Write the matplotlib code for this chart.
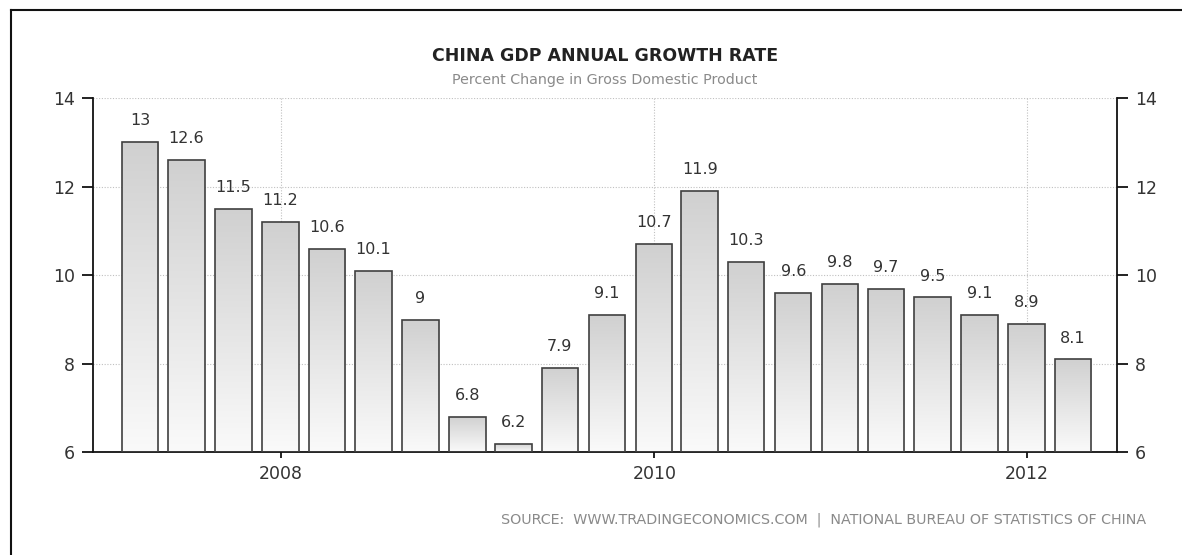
import matplotlib
matplotlib.use("Agg")
import matplotlib.pyplot as plt
import matplotlib.dates as mdates
from matplotlib.colors import LinearSegmentedColormap
from matplotlib.lines import Line2D
import numpy as np
import pandas as pd

# quarterly GDP growth, year on year (%)
quarters = ["2007Q1", "2007Q2", "2007Q3", "2007Q4",
            "2008Q1", "2008Q2", "2008Q3", "2008Q4",
            "2009Q1", "2009Q2", "2009Q3", "2009Q4",
            "2010Q1", "2010Q2", "2010Q3", "2010Q4",
            "2011Q1", "2011Q2", "2011Q3", "2011Q4",
            "2012Q1"]
growth = [13, 12.6, 11.5, 11.2, 10.6, 10.1, 9, 6.8, 6.2, 7.9, 9.1, 10.7,
          11.9, 10.3, 9.6, 9.8, 9.7, 9.5, 9.1, 8.9, 8.1]
y_ticks = [6, 8, 10, 12, 14]

title = "CHINA GDP ANNUAL GROWTH RATE"
subtitle = "Percent Change in Gross Domestic Product"
source = "SOURCE:  WWW.TRADINGECONOMICS.COM  |  NATIONAL BUREAU OF STATISTICS OF CHINA"

# bars sit on the last day of each quarter
dates = pd.PeriodIndex(quarters, freq="Q").to_timestamp(how="end").normalize()
xs = mdates.date2num(dates.to_pydatetime())

fig = plt.figure(figsize=(11.82, 5.55), dpi=100)
ax = fig.add_axes([0.0787, 0.1847, 0.8663, 0.6387])

ymin = 6
bar_w = 71.5
bars = ax.bar(xs, np.array(growth) - ymin, bottom=ymin, width=bar_w,
              facecolor="none", edgecolor="#404040", linewidth=1.2, zorder=3)

# grey-to-white fade inside every bar
fade = LinearSegmentedColormap.from_list("fade", ["#fafafa", "#d0d0d0"])
grad = np.linspace(0, 1, 256).reshape(-1, 1)
for b, x, v in zip(bars, xs, growth):
    im = ax.imshow(grad, cmap=fade, aspect="auto", origin="lower",
                   extent=[x - bar_w / 2, x + bar_w / 2, ymin, v], zorder=2)
    im.set_clip_path(b)
    ax.annotate(f"{v:g}", (x, v), xytext=(0, 10), textcoords="offset points",
                ha="center", va="bottom", fontsize=11.5, color="#333333")

ax.set_xlim(xs[0] - 92, xs[-1] + 86)
ax.set_ylim(6, 14)
ax.set_yticks(y_ticks)
ax.xaxis.set_major_locator(mdates.YearLocator(2))
ax.xaxis.set_major_formatter(mdates.DateFormatter("%Y"))

ax.grid(True, color="#c0c0c0", linestyle=(0, (1, 1.5)), linewidth=0.8, zorder=0)
ax.set_axisbelow(True)

for side in ("left", "right", "bottom"):
    ax.spines[side].set_color("#111111")
    ax.spines[side].set_linewidth(1.3)
ax.spines["top"].set_visible(False)

ax.tick_params(axis="y", left=True, right=True, labelleft=True, labelright=True,
               length=8, width=1.3, color="#111111", labelsize=12.5,
               labelcolor="#333333", pad=5)
ax.tick_params(axis="x", length=4, width=1.3, color="#111111", labelsize=12.5,
               labelcolor="#333333", pad=5)

fig.text(0.512, 0.899, title, ha="center", va="center", fontsize=12.5,
         fontweight="bold", color="#222222")
fig.text(0.512, 0.856, subtitle, ha="center", va="center", fontsize=10.3,
         color="#8a8a8a")
fig.text(0.970, 0.063, source, ha="right", va="center", fontsize=10.3,
         color="#8a8a8a")

# frame lines along the top and left edge
fig.add_artist(Line2D([0.0093, 1.0], [0.982, 0.982], color="#111111",
                      linewidth=1.5, transform=fig.transFigure))
fig.add_artist(Line2D([0.0093, 0.0093], [0.0, 0.982], color="#111111",
                      linewidth=1.5, transform=fig.transFigure))

fig.savefig("out.png", dpi=100, facecolor="white")
